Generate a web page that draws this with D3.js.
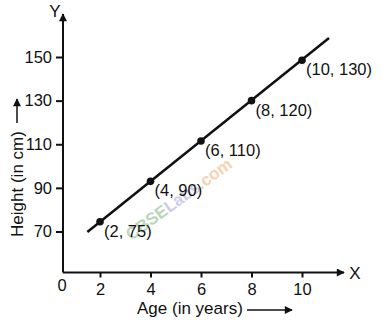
<!DOCTYPE html>
<html>
<head>
<meta charset="utf-8">
<script src="https://cdn.jsdelivr.net/npm/d3@7"></script>
<style>
  body { margin: 0; background: #fff; }
  text { font-family: "Liberation Sans", Arial, Helvetica, sans-serif; fill: #111; }
</style>
</head>
<body>
<div id="chart"></div>
<script>

// data
var ages = [2, 4, 6, 8, 10];
var heights = [74.5, 93, 111.5, 130, 148.5];   // where the dots sit
var pointLabels = ["(2, 75)", "(4, 90)", "(6, 110)", "(8, 120)", "(10, 130)"];
var lineAges = [1.5, 11.07];                     // ends of the drawn line
var lineHeights = [69.8, 158.7];
var xTicks = [2, 4, 6, 8, 10];
var yTicks = [70, 90, 110, 130, 150];

var width = 386,
  height = 324;

var svg = d3.select("#chart")
.append("svg")
  .attr("width", width)
  .attr("height", height);

// axis corner (origin of the drawing)
var ox = 63, oy = 272.5;

var x = d3.scaleLinear().domain([2, 10]).range([100, 302]);
var y = d3.scaleLinear().domain([70, 150]).range([231.5, 57]);

// watermark
var wm = svg.append("text")
  .attr("transform", "translate(131,241) rotate(-36)")
  .attr("font-size", 17)
  .attr("font-weight", "bold");
wm.append("tspan").style("fill", "#b9d6b9").text("CBSE");
wm.append("tspan").style("fill", "#cdcdea").text("Labs");
wm.append("tspan").style("fill", "#f4d2b2").text(".com");

// arrow head marker
svg.append("defs").append("marker")
  .attr("id", "arrow")
  .attr("viewBox", "0 0 10 10")
  .attr("refX", 9)
  .attr("refY", 5)
  .attr("markerWidth", 10)
  .attr("markerHeight", 8)
  .attr("markerUnits", "userSpaceOnUse")
  .attr("orient", "auto")
.append("path")
  .attr("d", "M0,0 L10,5 L0,10 z")
  .style("fill", "#111");

// axes lines
svg.append("line")
  .attr("x1", ox).attr("y1", oy)
  .attr("x2", 344).attr("y2", oy)
  .style("stroke", "#111").style("stroke-width", 2)
  .attr("marker-end", "url(#arrow)");

svg.append("line")
  .attr("x1", ox).attr("y1", oy)
  .attr("x2", ox).attr("y2", 14)
  .style("stroke", "#111").style("stroke-width", 2)
  .attr("marker-end", "url(#arrow)");

// ticks
var xAxis = svg.append("g")
  .attr("transform", "translate(0," + oy + ")")
  .call(d3.axisBottom(x).tickValues(xTicks).tickSize(5).tickPadding(6).tickFormat(d3.format("d")));
xAxis.select(".domain").remove();

var yAxis = svg.append("g")
  .attr("transform", "translate(" + ox + ",0)")
  .call(d3.axisLeft(y).tickValues(yTicks).tickSize(7).tickPadding(4).tickFormat(d3.format("d")));
yAxis.select(".domain").remove();

svg.selectAll(".tick line").style("stroke", "#111").style("stroke-width", 2);
svg.selectAll(".tick text")
  .attr("font-size", 16.5)
  .attr("font-family", null)
  .style("fill", "#111");

// origin and axis names
svg.append("text").attr("x", 62).attr("y", 291).attr("text-anchor", "middle").attr("font-size", 16.5).text("0");
svg.append("text").attr("x", 355).attr("y", 279).attr("text-anchor", "middle").attr("font-size", 17).text("X");
svg.append("text").attr("x", 55).attr("y", 17).attr("text-anchor", "middle").attr("font-size", 17).text("Y");

// axis titles with arrows
svg.append("text")
  .attr("x", 137).attr("y", 314)
  .attr("font-size", 17)
  .text("Age (in years)");
svg.append("line")
  .attr("x1", 247).attr("y1", 310)
  .attr("x2", 292).attr("y2", 310)
  .style("stroke", "#111").style("stroke-width", 1.5)
  .attr("marker-end", "url(#arrow)");

svg.append("text")
  .attr("transform", "translate(23,184) rotate(-90)")
  .attr("text-anchor", "middle")
  .attr("font-size", 17)
  .text("Height (in cm)");
svg.append("line")
  .attr("x1", 17).attr("y1", 123)
  .attr("x2", 17).attr("y2", 99)
  .style("stroke", "#111").style("stroke-width", 1.5)
  .attr("marker-end", "url(#arrow)");

// the straight line
var lineData = lineAges.map(function(d, i) { return [d, lineHeights[i]]; });
svg.append("path")
  .datum(lineData)
  .attr("d", d3.line()
    .x(function(d) { return x(d[0]); })
    .y(function(d) { return y(d[1]); }))
  .style("fill", "none")
  .style("stroke", "#111")
  .style("stroke-width", 2.5);

// points and their labels
var pts = ages.map(function(d, i) { return {age: d, h: heights[i], label: pointLabels[i]}; });

svg.selectAll("circle.pt")
  .data(pts)
  .enter()
  .append("circle")
    .attr("class", "pt")
    .attr("cx", function(d) { return x(d.age); })
    .attr("cy", function(d) { return y(d.h); })
    .attr("r", 3.8)
    .style("fill", "#111");

svg.selectAll("text.lbl")
  .data(pts)
  .enter()
  .append("text")
    .attr("class", "lbl")
    .attr("x", function(d) { return x(d.age) + 4; })
    .attr("y", function(d) { return y(d.h) + 15; })
    .attr("font-size", 16.5)
    .text(function(d) { return d.label; });

</script>
</body>
</html>
